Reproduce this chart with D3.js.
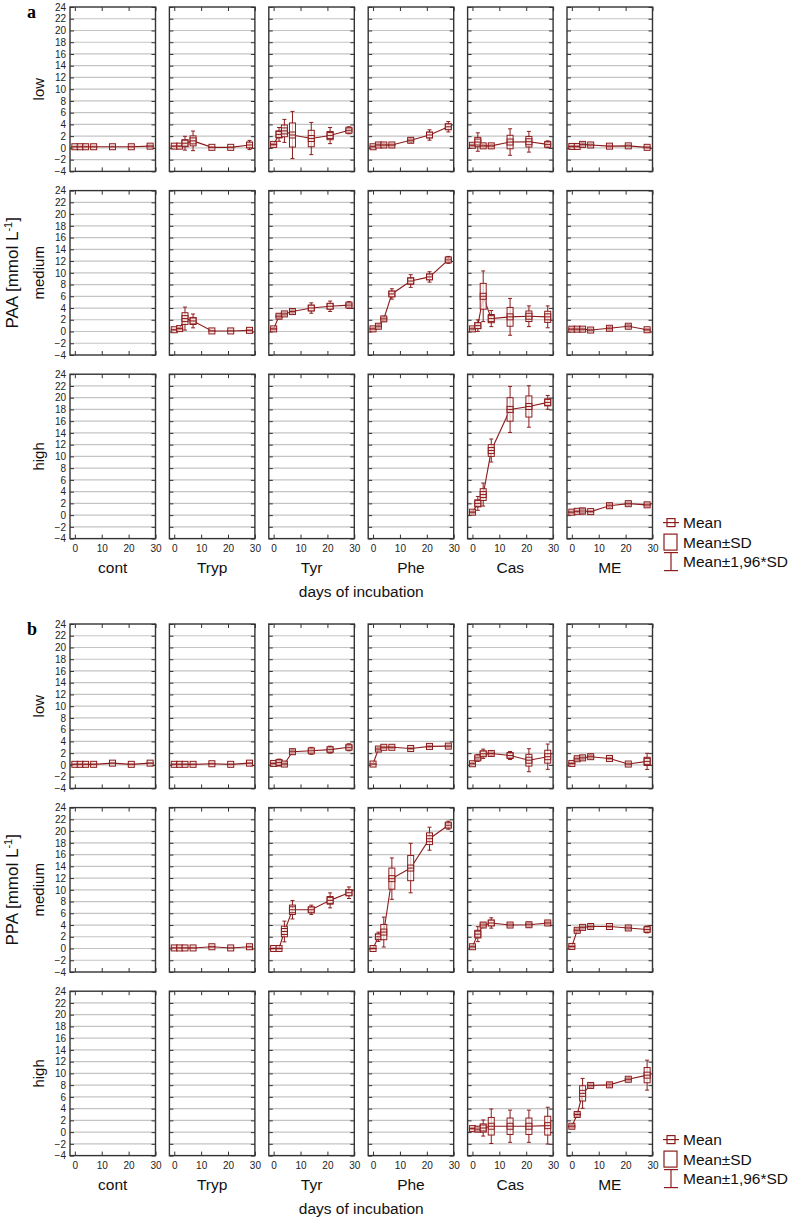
<!DOCTYPE html>
<html>
<head>
<meta charset="utf-8">
<script src="https://cdn.jsdelivr.net/npm/d3@7"></script>
<style>
body { margin: 0; background: #fff; }
text { font-family: "Liberation Sans", Arial, sans-serif; }
</style>
</head>
<body>
<svg id="chart" width="797" height="1219"></svg>
<script>
// sampling days and category names
var days = [0, 2, 4, 7, 14, 21, 28];
var treatments = ["cont", "Tryp", "Tyr", "Phe", "Cas", "ME"];
var levels = ["low", "medium", "high"];
var yTicks = [-4, -2, 0, 2, 4, 6, 8, 10, 12, 14, 16, 18, 20, 22, 24];
var xTicks = [0, 10, 20, 30];
var legendItems = ["Mean", "Mean\u00B1SD", "Mean\u00B11,96*SD"];

// panel a: PAA, one row per treatment (cont, Tryp, Tyr, Phe, Cas, ME)
var paaLowMean = [
  [0.2, 0.2, 0.2, 0.2, 0.2, 0.2, 0.3],
  [0.3, 0.3, 0.8, 1.2, 0.1, 0.1, 0.5],
  [0.6, 2.3, 2.9, 2.2, 1.6, 2.1, 3.0],
  [0.2, 0.5, 0.5, 0.5, 1.3, 2.2, 3.6],
  [0.45, 1.0, 0.35, 0.35, 1.0, 1.05, 0.6],
  [0.25, 0.25, 0.6, 0.5, 0.3, 0.35, 0.1]
];
var paaLowSd = [
  [0.05, 0.05, 0.05, 0.05, 0.05, 0.05, 0.1],
  [0.05, 0.05, 0.6, 0.85, 0.05, 0.05, 0.4],
  [0.1, 0.6, 1.0, 2.05, 1.4, 0.7, 0.3],
  [0.1, 0.1, 0.1, 0.1, 0.2, 0.45, 0.45],
  [0.1, 0.8, 0.1, 0.1, 1.15, 0.9, 0.3],
  [0.1, 0.1, 0.15, 0.1, 0.1, 0.1, 0.1]
];
var paaMedMean = [
  null,
  [0.3, 0.5, 2.2, 1.8, 0.1, 0.1, 0.2],
  [0.45, 2.6, 3.0, 3.4, 4.0, 4.3, 4.5],
  [0.45, 0.9, 2.15, 6.4, 8.6, 9.3, 12.2],
  [0.45, 1.0, 6.0, 2.2, 2.5, 2.6, 2.5],
  [0.4, 0.4, 0.4, 0.25, 0.55, 0.9, 0.3]
];
var paaMedSd = [
  null,
  [0.05, 0.1, 1.0, 0.6, 0.05, 0.05, 0.05],
  [0.1, 0.2, 0.15, 0.15, 0.45, 0.45, 0.3],
  [0.1, 0.15, 0.2, 0.45, 0.55, 0.45, 0.3],
  [0.1, 0.5, 2.2, 0.7, 1.6, 0.9, 0.95],
  [0.1, 0.1, 0.1, 0.1, 0.15, 0.15, 0.1]
];
var paaHighMean = [
  null, null, null, null,
  [0.5, 2.0, 3.5, 11.0, 18.0, 18.5, 19.2],
  [0.5, 0.65, 0.7, 0.6, 1.6, 1.95, 1.75]
];
var paaHighSd = [
  null, null, null, null,
  [0.1, 0.6, 1.0, 1.0, 2.0, 1.8, 0.6],
  [0.1, 0.1, 0.25, 0.1, 0.2, 0.15, 0.15]
];

// panel b: PPA
var ppaLowMean = [
  [0.1, 0.1, 0.1, 0.1, 0.3, 0.1, 0.3],
  [0.1, 0.1, 0.1, 0.1, 0.2, 0.1, 0.3],
  [0.25, 0.4, 0.15, 2.25, 2.4, 2.6, 3.0],
  [0.15, 2.7, 3.0, 3.0, 2.8, 3.15, 3.2],
  [0.2, 1.2, 1.9, 1.95, 1.6, 0.8, 1.4],
  [0.25, 1.05, 1.2, 1.4, 1.1, 0.15, 0.6]
];
var ppaLowSd = [
  [0.05, 0.05, 0.05, 0.05, 0.05, 0.05, 0.05],
  [0.05, 0.05, 0.05, 0.05, 0.05, 0.05, 0.05],
  [0.1, 0.3, 0.1, 0.2, 0.3, 0.3, 0.3],
  [0.05, 0.15, 0.1, 0.1, 0.1, 0.1, 0.1],
  [0.1, 0.3, 0.4, 0.2, 0.35, 1.0, 1.1],
  [0.1, 0.15, 0.15, 0.2, 0.1, 0.1, 0.7]
];
var ppaMedMean = [
  null,
  [0.1, 0.1, 0.1, 0.1, 0.3, 0.1, 0.3],
  [0.0, 0.0, 2.9, 6.6, 6.6, 8.2, 9.5],
  [0.0, 2.0, 2.8, 11.9, 13.7, 18.7, 21.0],
  [0.3, 2.45, 4.0, 4.35, 4.0, 4.05, 4.35],
  [0.35, 3.1, 3.6, 3.75, 3.75, 3.5, 3.25]
];
var ppaMedSd = [
  null,
  [0.05, 0.05, 0.05, 0.05, 0.05, 0.05, 0.05],
  [0.05, 0.05, 0.9, 0.8, 0.4, 0.65, 0.5],
  [0.05, 0.4, 1.3, 1.8, 2.15, 1.0, 0.35],
  [0.1, 0.65, 0.2, 0.45, 0.15, 0.2, 0.15],
  [0.1, 0.15, 0.15, 0.15, 0.1, 0.15, 0.3]
];
var ppaHighMean = [
  null, null, null, null,
  [0.6, 0.5, 0.7, 1.0, 1.0, 1.0, 1.1],
  [1.0, 3.0, 6.6, 7.95, 8.05, 9.0, 9.7]
];
var ppaHighSd = [
  null, null, null, null,
  [0.1, 0.2, 0.7, 1.5, 1.4, 1.4, 1.6],
  [0.15, 0.2, 1.3, 0.2, 0.2, 0.15, 1.3]
];

var panels = [
  { letter: "a", name: "PAA", top: 0, means: [paaLowMean, paaMedMean, paaHighMean], sds: [paaLowSd, paaMedSd, paaHighSd] },
  { letter: "b", name: "PPA", top: 617, means: [ppaLowMean, ppaMedMean, ppaHighMean], sds: [ppaLowSd, ppaMedSd, ppaHighSd] }
];

var red = "#8c1c1c";
var colLeft = 70, colStep = 99.4, colW = 85.5;
var rowTop = 7, rowStep = 183.6, rowH = 164.4;

var x = d3.scaleLinear().domain([-1.8, 30]).range([0, colW]);
var y = d3.scaleLinear().domain([-4, 24]).range([rowH, 0]);

var svg = d3.select("#chart");

panels.forEach(function (p) {
  var g = svg.append("g").attr("transform", "translate(0," + p.top + ")");

  g.append("text").attr("x", 27).attr("y", 18)
    .style("font-family", "'Liberation Serif', 'Times New Roman', serif")
    .style("font-weight", "bold").style("font-size", "18px")
    .text(p.letter);

  // y axis title
  var midY = rowTop + rowStep + rowH / 2;
  var yt = g.append("text").attr("transform", "translate(18," + midY + ") rotate(-90)")
    .attr("text-anchor", "middle").style("font-size", "17px").attr("fill", "#111");
  yt.append("tspan").text(p.name + " [mmol L");
  yt.append("tspan").attr("dy", -6).style("font-size", "11px").text("-1");
  yt.append("tspan").attr("dy", 6).text("]");

  levels.forEach(function (lev, r) {
    var top = rowTop + r * rowStep;

    g.append("text")
      .attr("transform", "translate(44," + (top + rowH / 2) + ") rotate(-90)")
      .attr("text-anchor", "middle").style("font-size", "15px").attr("fill", "#111")
      .text(lev);

    var yAxis = g.append("g").attr("transform", "translate(" + (colLeft - 1) + "," + top + ")")
      .call(d3.axisLeft(y).tickValues(yTicks).tickSize(0).tickPadding(3));
    yAxis.select(".domain").remove();
    yAxis.selectAll("text").style("font-size", "10px").attr("fill", "#222");

    treatments.forEach(function (t, c) {
      var cell = g.append("g")
        .attr("transform", "translate(" + (colLeft + c * colStep) + "," + top + ")");

      cell.append("g").selectAll("line").data(yTicks.slice(1, -1)).join("line")
        .attr("x1", 0).attr("x2", colW)
        .attr("y1", function (d) { return y(d); }).attr("y2", function (d) { return y(d); })
        .attr("stroke", "#c4c4c4").attr("stroke-width", 1.2);

      // inward ticks on all four sides
      [d3.axisRight(y).tickValues(yTicks).tickSize(4).tickFormat(""),
       d3.axisLeft(y).tickValues(yTicks).tickSize(4).tickFormat("")].forEach(function (ax, i) {
        var a = cell.append("g").attr("transform", "translate(" + (i ? colW : 0) + ",0)").call(ax);
        a.select(".domain").remove();
        a.selectAll("line").attr("stroke", "#333");
      });
      [d3.axisBottom(x).tickValues(xTicks).tickSize(4).tickFormat(""),
       d3.axisTop(x).tickValues(xTicks).tickSize(4).tickFormat("")].forEach(function (ax, i) {
        var a = cell.append("g").attr("transform", "translate(0," + (i ? rowH : 0) + ")").call(ax);
        a.select(".domain").remove();
        a.selectAll("line").attr("stroke", "#333");
      });

      cell.append("rect").attr("width", colW).attr("height", rowH)
        .attr("fill", "none").attr("stroke", "#333").attr("stroke-width", 1.4);

      if (r === 2) {
        var xa = cell.append("g").attr("transform", "translate(0," + rowH + ")")
          .call(d3.axisBottom(x).tickValues(xTicks).tickSize(0).tickPadding(6));
        xa.select(".domain").remove();
        xa.selectAll("text").style("font-size", "10px").attr("fill", "#222");
        cell.append("text").attr("x", colW / 2).attr("y", rowH + 34)
          .attr("text-anchor", "middle").style("font-size", "15.5px").attr("fill", "#111")
          .text(t);
      }

      var means = p.means[r][c];
      if (!means) return;
      var sds = p.sds[r][c];
      var pts = days.map(function (d, i) { return { day: d, m: means[i], s: sds[i] }; });

      cell.append("path").datum(pts)
        .attr("d", d3.line().x(function (d) { return x(d.day); }).y(function (d) { return y(d.m); }))
        .attr("fill", "none").attr("stroke", red).attr("stroke-width", 1.1);

      var mk = cell.append("g").selectAll("g").data(pts).join("g")
        .attr("transform", function (d) { return "translate(" + x(d.day) + ",0)"; });
      // whiskers at mean +/- 1.96 SD
      mk.append("line")
        .attr("y1", function (d) { return y(d.m - 1.96 * d.s); })
        .attr("y2", function (d) { return y(d.m + 1.96 * d.s); })
        .attr("stroke", red).attr("stroke-width", 1);
      [-1, 1].forEach(function (sg) {
        mk.append("line").attr("x1", -2).attr("x2", 2)
          .attr("y1", function (d) { return y(d.m + sg * 1.96 * d.s); })
          .attr("y2", function (d) { return y(d.m + sg * 1.96 * d.s); })
          .attr("stroke", red).attr("stroke-width", 1);
      });
      // box at mean +/- SD
      mk.append("rect").attr("x", -3).attr("width", 6)
        .attr("y", function (d) { return y(d.m + d.s); })
        .attr("height", function (d) { return y(d.m - d.s) - y(d.m + d.s); })
        .attr("fill", "#fff").attr("fill-opacity", 0.7).attr("stroke", red).attr("stroke-width", 1);
      // mean marker
      mk.append("rect").attr("x", -3).attr("width", 6).attr("height", 6)
        .attr("y", function (d) { return y(d.m) - 3; })
        .attr("fill", "#f3dede").attr("fill-opacity", 0.6).attr("stroke", red).attr("stroke-width", 1);
      mk.append("line").attr("x1", -3).attr("x2", 3)
        .attr("y1", function (d) { return y(d.m); }).attr("y2", function (d) { return y(d.m); })
        .attr("stroke", red).attr("stroke-width", 1);
    });
  });

  var lastBottom = rowTop + 2 * rowStep + rowH;
  g.append("text").attr("x", colLeft + (5 * colStep + colW) / 2).attr("y", lastBottom + 58)
    .attr("text-anchor", "middle").style("font-size", "15.5px").attr("fill", "#111")
    .text("days of incubation");

  // legend
  var lg = g.append("g").attr("transform", "translate(671," + (lastBottom - 16) + ")");
  var item = lg.selectAll("g").data(legendItems).join("g")
    .attr("transform", function (d, i) { return "translate(0," + (i * 19.5) + ")"; });
  item.append("text").attr("x", 12).attr("y", 5.5)
    .style("font-size", "15.5px").attr("fill", "#111").text(function (d) { return d; });
  var s0 = d3.select(item.nodes()[0]);
  s0.append("line").attr("x1", -8).attr("x2", 8).attr("stroke", red).attr("stroke-width", 1.2);
  s0.append("rect").attr("x", -4).attr("y", -4).attr("width", 8).attr("height", 8)
    .attr("fill", "none").attr("stroke", red).attr("stroke-width", 1.2);
  d3.select(item.nodes()[1]).append("rect").attr("x", -7).attr("y", -8).attr("width", 13).attr("height", 16)
    .attr("fill", "none").attr("stroke", red).attr("stroke-width", 1.2);
  var s2 = d3.select(item.nodes()[2]);
  s2.append("line").attr("y1", -9).attr("y2", 9).attr("stroke", red).attr("stroke-width", 1.2);
  s2.append("line").attr("x1", -7).attr("x2", 7).attr("y1", -9).attr("y2", -9).attr("stroke", red).attr("stroke-width", 1.2);
  s2.append("line").attr("x1", -7).attr("x2", 7).attr("y1", 9).attr("y2", 9).attr("stroke", red).attr("stroke-width", 1.2);
});
</script>
</body>
</html>
